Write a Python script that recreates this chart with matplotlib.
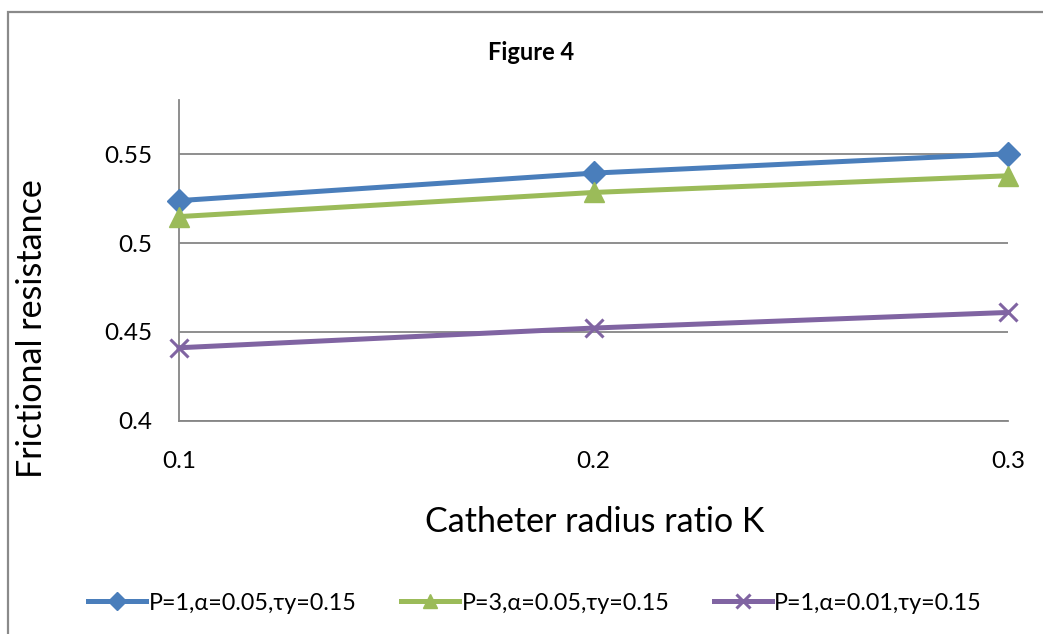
import matplotlib
matplotlib.use("Agg")
import matplotlib.pyplot as plt
from matplotlib.patches import Rectangle

# data
k_values = [0.1, 0.2, 0.3]
fr_p1_a005 = [0.524, 0.5395, 0.5504]
fr_p3_a005 = [0.515, 0.5286, 0.538]
fr_p1_a001 = [0.4411, 0.4522, 0.4610]
labels = ["P=1,α=0.05,τy=0.15", "P=3,α=0.05,τy=0.15", "P=1,α=0.01,τy=0.15"]
y_ticks = [0.4, 0.45, 0.5, 0.55]
y_tick_labels = ["0.4", "0.45", "0.5", "0.55"]

plt.rcParams["font.family"] = ["Lato", "DejaVu Sans"]

fig = plt.figure(figsize=(10.43, 6.34), dpi=100)
ax = fig.add_axes([179 / 1043, 1 - 420.7 / 634, (1008 - 179) / 1043, (420.7 - 100) / 634])

# outer chart border (Excel style)
fig.patches.append(Rectangle((8 / 1043, -0.1), 1.2, 1 - 12 / 634 + 0.1,
                             transform=fig.transFigure, fill=False,
                             edgecolor="#8a8a8a", linewidth=1.6))

styles = [
    dict(color="#4A7EBB", marker="D", markersize=12),
    dict(color="#9BBB59", marker="^", markersize=14),
    dict(color="#8064A2", marker="x", markersize=13, markeredgewidth=2.2),
]
series = [fr_p1_a005, fr_p3_a005, fr_p1_a001]
for vals, lab, st in zip(series, labels, styles):
    ax.plot(k_values, vals, linewidth=3.6, label=lab, clip_on=False, zorder=3, **st)

ax.set_xlim(0.1, 0.3)
ax.set_ylim(0.4, 0.5807)
ax.set_xticks(k_values)
ax.set_xticklabels(["0.1", "0.2", "0.3"])
ax.set_yticks(y_ticks)
ax.set_yticklabels(y_tick_labels)
ax.tick_params(axis="both", length=0, labelsize=17.5, colors="black")
ax.tick_params(axis="x", pad=22)
ax.tick_params(axis="y", pad=19)

ax.grid(axis="y", color="#868686", linewidth=1.3)
ax.set_axisbelow(True)
for s in ["top", "right"]:
    ax.spines[s].set_visible(False)
for s in ["left", "bottom"]:
    ax.spines[s].set_color("#868686")
    ax.spines[s].set_linewidth(1.3)

fig.text(595 / 1043, 1 - 522 / 634, "Catheter radius ratio K", ha="center", va="center",
         fontsize=24.5)
fig.text(32 / 1043, 1 - 329 / 634, "Frictional resistance", ha="center", va="center",
         fontsize=24.5, rotation=90)
fig.text(531 / 1043, 1 - 52 / 634, "Figure 4", ha="center", va="center",
         fontsize=17, fontweight="bold")

fig.legend(loc="center", bbox_to_anchor=(535 / 1043, 1 - 603 / 634), ncol=3,
           frameon=False, fontsize=16.8, handlelength=2.5, columnspacing=1.9,
           handletextpad=0.1, markerscale=0.75)

fig.savefig("out.png", dpi=100)
